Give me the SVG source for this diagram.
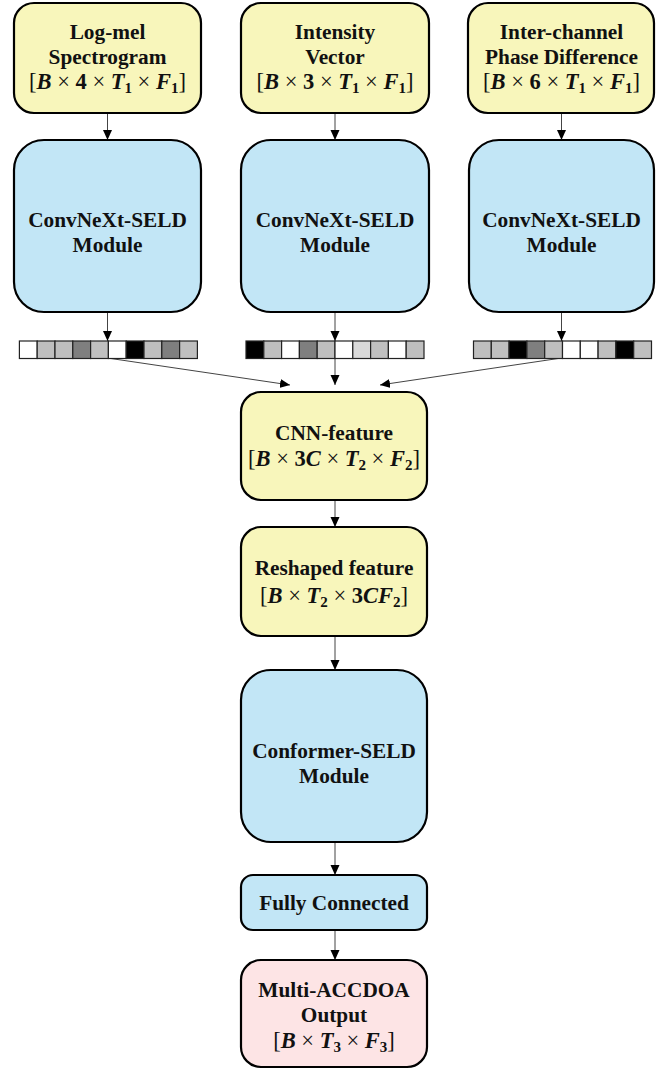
<svg xmlns="http://www.w3.org/2000/svg" width="670" height="1070" viewBox="0 0 670 1070">
  <style>
    .box { stroke: #000; stroke-width: 2.2; }
    .yellow { fill: #f8f6bb; }
    .blue { fill: #c2e6f6; }
    .pink { fill: #fde4e5; }
    .lbl { font-family: "Liberation Serif", "Times New Roman", serif; font-weight: bold; font-size: 21.3px; fill: #111; text-anchor: middle; }
    .math { font-family: "Liberation Serif", "Times New Roman", serif; font-size: 22.5px; fill: #111; text-anchor: middle; }
    .v { font-weight: bold; font-style: italic; }
    .n { font-weight: bold; }
    .s { font-weight: bold; font-size: 15px; }
    .op { font-weight: normal; }
    .link { stroke: #444; stroke-width: 1; fill: none; marker-end: url(#arrow); }
    .cell { stroke: #222; stroke-width: 1.2; }
    .w { fill: #ffffff; }
    .g { fill: #bfbfbf; }
    .lg { fill: #d9d9d9; }
    .dg { fill: #7f7f7f; }
    .k { fill: #000000; }
  </style>
  <defs>
    <marker id="arrow" markerUnits="userSpaceOnUse" markerWidth="10" markerHeight="10" viewBox="0 0 10 10" refX="10" refY="5" orient="auto">
      <path d="M0,0.5 L10,5 L0,9.5 Z" fill="#000"/>
    </marker>
  </defs>

  <!-- connectors -->
  <g id="connectors">
    <line class="link" x1="107.5" y1="114" x2="107.5" y2="140"/>
    <line class="link" x1="335" y1="114" x2="335" y2="140"/>
    <line class="link" x1="561.5" y1="114" x2="561.5" y2="140"/>
    <line class="link" x1="107.5" y1="313" x2="107.5" y2="341"/>
    <line class="link" x1="335" y1="313" x2="335" y2="341"/>
    <line class="link" x1="561.5" y1="313" x2="561.5" y2="341"/>
    <line class="link" x1="107.5" y1="358" x2="290" y2="385"/>
    <line class="link" x1="335" y1="358" x2="335" y2="385"/>
    <line class="link" x1="561.5" y1="358" x2="380" y2="385"/>
    <line class="link" x1="335" y1="501" x2="335" y2="527"/>
    <line class="link" x1="335" y1="637" x2="335" y2="670"/>
    <line class="link" x1="335" y1="843" x2="335" y2="875"/>
    <line class="link" x1="335" y1="931" x2="335" y2="960"/>
  </g>

  <!-- input features -->
  <g id="logmel">
    <rect class="box yellow" x="14" y="3" width="187" height="110" rx="20"/>
    <text class="lbl" x="107.5" y="39">Log-mel</text>
    <text class="lbl" x="107.5" y="64">Spectrogram</text>
    <text class="math" x="107.5" y="89"><tspan class="op">[</tspan><tspan class="v">B</tspan><tspan class="op"> × </tspan><tspan class="n">4</tspan><tspan class="op"> × </tspan><tspan class="v">T</tspan><tspan class="s" dy="4">1</tspan><tspan class="op" dy="-4"> × </tspan><tspan class="v">F</tspan><tspan class="s" dy="4">1</tspan><tspan class="op" dy="-4">]</tspan></text>
  </g>
  <g id="intensity">
    <rect class="box yellow" x="241" y="3" width="188" height="110" rx="20"/>
    <text class="lbl" x="335" y="39">Intensity</text>
    <text class="lbl" x="335" y="64">Vector</text>
    <text class="math" x="335" y="89"><tspan class="op">[</tspan><tspan class="v">B</tspan><tspan class="op"> × </tspan><tspan class="n">3</tspan><tspan class="op"> × </tspan><tspan class="v">T</tspan><tspan class="s" dy="4">1</tspan><tspan class="op" dy="-4"> × </tspan><tspan class="v">F</tspan><tspan class="s" dy="4">1</tspan><tspan class="op" dy="-4">]</tspan></text>
  </g>
  <g id="ipd">
    <rect class="box yellow" x="468" y="3" width="186" height="110" rx="20"/>
    <text class="lbl" x="561.5" y="39">Inter-channel</text>
    <text class="lbl" x="561.5" y="64">Phase Difference</text>
    <text class="math" x="561.5" y="89"><tspan class="op">[</tspan><tspan class="v">B</tspan><tspan class="op"> × </tspan><tspan class="n">6</tspan><tspan class="op"> × </tspan><tspan class="v">T</tspan><tspan class="s" dy="4">1</tspan><tspan class="op" dy="-4"> × </tspan><tspan class="v">F</tspan><tspan class="s" dy="4">1</tspan><tspan class="op" dy="-4">]</tspan></text>
  </g>

  <!-- ConvNeXt encoders -->
  <g id="convnext1">
    <rect class="box blue" x="14" y="140" width="187" height="172" rx="30"/>
    <text class="lbl" x="107.5" y="227">ConvNeXt-SELD</text>
    <text class="lbl" x="107.5" y="252">Module</text>
  </g>
  <g id="convnext2">
    <rect class="box blue" x="241" y="140" width="188" height="172" rx="30"/>
    <text class="lbl" x="335" y="227">ConvNeXt-SELD</text>
    <text class="lbl" x="335" y="252">Module</text>
  </g>
  <g id="convnext3">
    <rect class="box blue" x="469" y="140" width="185" height="172" rx="30"/>
    <text class="lbl" x="561.5" y="227">ConvNeXt-SELD</text>
    <text class="lbl" x="561.5" y="252">Module</text>
  </g>

  <!-- embedding strips -->
  <g id="strip1">
    <rect class="cell w" x="19.4" y="341" width="17.8" height="17.5"/>
    <rect class="cell g" x="37.2" y="341" width="17.8" height="17.5"/>
    <rect class="cell g" x="55" y="341" width="17.8" height="17.5"/>
    <rect class="cell dg" x="72.8" y="341" width="17.8" height="17.5"/>
    <rect class="cell g" x="90.6" y="341" width="17.8" height="17.5"/>
    <rect class="cell w" x="108.4" y="341" width="17.8" height="17.5"/>
    <rect class="cell k" x="126.2" y="341" width="17.8" height="17.5"/>
    <rect class="cell g" x="144" y="341" width="17.8" height="17.5"/>
    <rect class="cell dg" x="161.8" y="341" width="17.8" height="17.5"/>
    <rect class="cell g" x="179.6" y="341" width="17.8" height="17.5"/>
  </g>
  <g id="strip2">
    <rect class="cell k" x="246" y="341" width="17.8" height="17.5"/>
    <rect class="cell g" x="263.8" y="341" width="17.8" height="17.5"/>
    <rect class="cell w" x="281.6" y="341" width="17.8" height="17.5"/>
    <rect class="cell dg" x="299.4" y="341" width="17.8" height="17.5"/>
    <rect class="cell g" x="317.2" y="341" width="17.8" height="17.5"/>
    <rect class="cell w" x="335" y="341" width="17.8" height="17.5"/>
    <rect class="cell lg" x="352.8" y="341" width="17.8" height="17.5"/>
    <rect class="cell g" x="370.6" y="341" width="17.8" height="17.5"/>
    <rect class="cell w" x="388.4" y="341" width="17.8" height="17.5"/>
    <rect class="cell g" x="406.2" y="341" width="17.8" height="17.5"/>
  </g>
  <g id="strip3">
    <rect class="cell g" x="473.5" y="341" width="17.8" height="17.5"/>
    <rect class="cell g" x="491.3" y="341" width="17.8" height="17.5"/>
    <rect class="cell k" x="509.1" y="341" width="17.8" height="17.5"/>
    <rect class="cell dg" x="526.9" y="341" width="17.8" height="17.5"/>
    <rect class="cell g" x="544.7" y="341" width="17.8" height="17.5"/>
    <rect class="cell w" x="562.5" y="341" width="17.8" height="17.5"/>
    <rect class="cell w" x="580.3" y="341" width="17.8" height="17.5"/>
    <rect class="cell g" x="598.1" y="341" width="17.8" height="17.5"/>
    <rect class="cell k" x="615.9" y="341" width="17.8" height="17.5"/>
    <rect class="cell g" x="633.7" y="341" width="17.8" height="17.5"/>
  </g>

  <!-- fused trunk -->
  <g id="cnn-feature">
    <rect class="box yellow" x="241" y="392" width="186" height="108" rx="20"/>
    <text class="lbl" x="334" y="440">CNN-feature</text>
    <text class="math" x="334" y="466"><tspan class="op">[</tspan><tspan class="v">B</tspan><tspan class="op"> × </tspan><tspan class="n">3</tspan><tspan class="v">C</tspan><tspan class="op"> × </tspan><tspan class="v">T</tspan><tspan class="s" dy="4">2</tspan><tspan class="op" dy="-4"> × </tspan><tspan class="v">F</tspan><tspan class="s" dy="4">2</tspan><tspan class="op" dy="-4">]</tspan></text>
  </g>
  <g id="reshaped">
    <rect class="box yellow" x="241" y="527" width="186" height="109" rx="20"/>
    <text class="lbl" x="334" y="575">Reshaped feature</text>
    <text class="math" x="334" y="603"><tspan class="op">[</tspan><tspan class="v">B</tspan><tspan class="op"> × </tspan><tspan class="v">T</tspan><tspan class="s" dy="4">2</tspan><tspan class="op" dy="-4"> × </tspan><tspan class="n">3</tspan><tspan class="v">CF</tspan><tspan class="s" dy="4">2</tspan><tspan class="op" dy="-4">]</tspan></text>
  </g>
  <g id="conformer">
    <rect class="box blue" x="241" y="670" width="186" height="172" rx="30"/>
    <text class="lbl" x="334" y="758">Conformer-SELD</text>
    <text class="lbl" x="334" y="783">Module</text>
  </g>
  <g id="fc">
    <rect class="box blue" x="241" y="875" width="186" height="55" rx="12"/>
    <text class="lbl" x="334" y="910">Fully Connected</text>
  </g>
  <g id="output">
    <rect class="box pink" x="241" y="960" width="186" height="107" rx="20"/>
    <text class="lbl" x="334" y="997">Multi-ACCDOA</text>
    <text class="lbl" x="334" y="1022">Output</text>
    <text class="math" x="334" y="1048"><tspan class="op">[</tspan><tspan class="v">B</tspan><tspan class="op"> × </tspan><tspan class="v">T</tspan><tspan class="s" dy="4">3</tspan><tspan class="op" dy="-4"> × </tspan><tspan class="v">F</tspan><tspan class="s" dy="4">3</tspan><tspan class="op" dy="-4">]</tspan></text>
  </g>
</svg>
